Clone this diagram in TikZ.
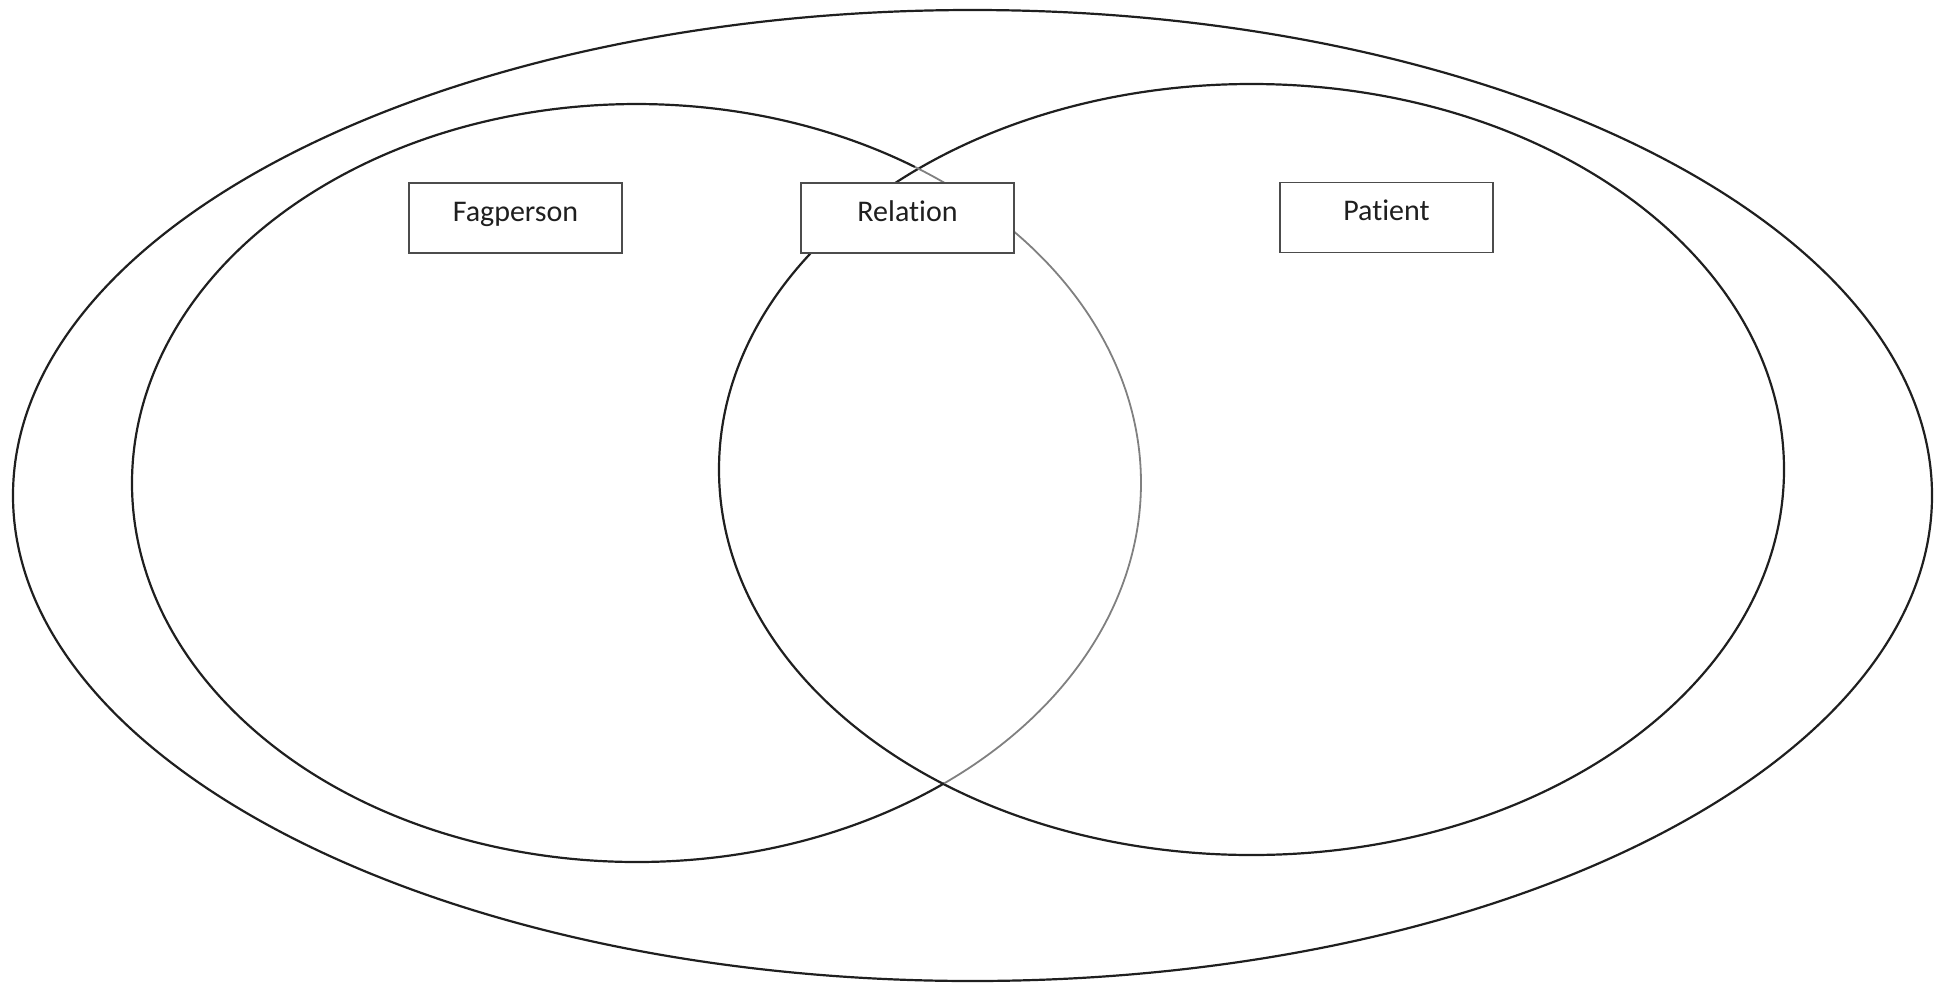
\documentclass[tikz,border=0pt]{standalone}
\usepackage{fontspec}
\setmainfont{Carlito}[Ligatures={NoCommon,NoContextual,NoRare}]
\begin{document}
\begin{tikzpicture}[x=1pt,y=-1pt,
  ring/.style={draw=black!88, line width=2.2pt},
  faint/.style={draw=black!50, line width=1.8pt},
  label box/.style={draw=black!70, line width=1.4pt, fill=white, rectangle,
    minimum width=213pt, minimum height=70pt, inner sep=0pt,
    font=\fontsize{30}{36}\selectfont, text=black!88,
    text height=17pt, text depth=11pt}]
\useasboundingbox (0,0) rectangle (1944,983);
% centres
\coordinate (O) at (972.5,495.5);
\coordinate (L) at (636.5,483);
\coordinate (R) at (1251.5,469.5);
% outer ellipse
\draw[ring] (O) ellipse [x radius=959.5, y radius=485.5];
% right ellipse
\draw[ring] (R) ellipse [x radius=532.5, y radius=385.5];
% left ellipse: dark part and faint part inside the right ellipse
\draw[ring] ([shift={(52.4:504.5 and 379)}]L) arc[start angle=52.4, end angle=303.5, x radius=504.5, y radius=379];
\draw[faint] ([shift={(-56.5:504.5 and 379)}]L) arc[start angle=-56.5, end angle=52.4, x radius=504.5, y radius=379];
% boxes
\node[label box] (fag) at (515.5,218) {Fagperson};
\node[label box] (rel) at (907.5,218) {Relat\kern0pt ion};
\node[label box] (pat) at (1386.5,217.5) {Pat\kern0pt ient};
\end{tikzpicture}
\end{document}
